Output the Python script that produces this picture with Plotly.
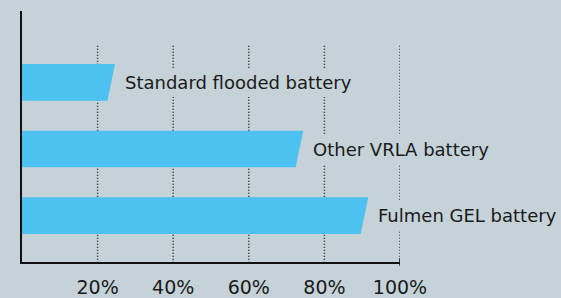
import plotly.graph_objects as go

categories = ["Standard flooded battery", "Other VRLA battery", "Fulmen GEL battery"]
values = [23.6, 73.4, 90.6]
tick_vals = [20, 40, 60, 80, 100]
tick_text = ["20%", "40%", "60%", "80%", "100%"]

BG = "#c5d2d7"
BAR = "#4dc1ef"
TXT = "#1a1a1a"
FONT = "DejaVu Sans"
half_h = 0.275
slant = 1.0

fig = go.Figure()
for i, (cat, v) in enumerate(zip(categories, values)):
    xs = [0, v + slant, v - slant, 0, 0]
    ys = [i - half_h, i - half_h, i + half_h, i + half_h, i - half_h]
    fig.add_trace(go.Scatter(x=xs, y=ys, fill="toself", fillcolor=BAR, mode="lines",
                             line=dict(width=0, color=BAR), hoverinfo="skip", showlegend=False))
    fig.add_annotation(x=v + slant, y=i, text=cat, xanchor="left", yanchor="middle",
                       xshift=6, showarrow=False, bgcolor=BG, borderpad=4, borderwidth=0,
                       font=dict(family=FONT, size=18, color=TXT))

shapes = []
for t in tick_vals:
    shapes.append(dict(type="line", xref="x", yref="y", x0=t, x1=t, y0=-0.55, y1=2.695,
                       line=dict(color="#222222", width=1.5, dash="1px,2px"), layer="below"))
shapes.append(dict(type="line", xref="x", yref="paper", x0=100, x1=100, y0=-0.015, y1=0.015,
                   line=dict(color="#111111", width=1.5)))
fig.update_layout(shapes=shapes)

fig.update_layout(
    width=561, height=298,
    margin=dict(l=22, r=161, t=11, b=36, autoexpand=False),
    paper_bgcolor=BG, plot_bgcolor=BG,
    xaxis=dict(range=[0, 100], tickvals=tick_vals, ticktext=tick_text, showgrid=False,
               zeroline=False, showline=True, linecolor="#111111", linewidth=2,
               ticks="", ticklabelstandoff=7, automargin=False, fixedrange=True,
               tickfont=dict(family=FONT, size=19, color=TXT)),
    yaxis=dict(range=[2.695, -1.07], showgrid=False, zeroline=False, showticklabels=False,
               showline=True, linecolor="#111111", linewidth=2, ticks="",
               automargin=False, fixedrange=True),
)

fig.write_html("out.html", config={"displayModeBar": False},
               post_script="document.body.style.margin='0';document.body.style.overflow='hidden';")
